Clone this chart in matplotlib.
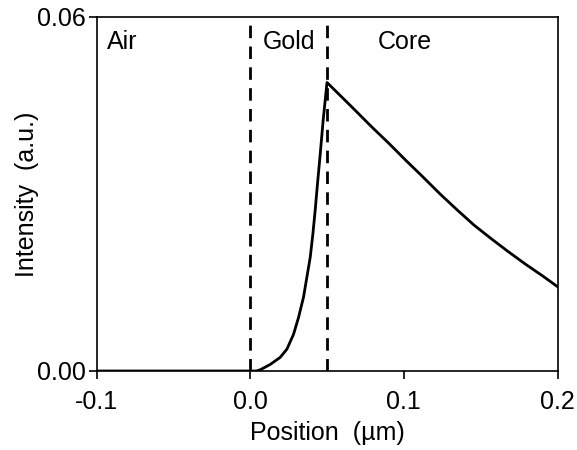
import matplotlib
matplotlib.use("Agg")
from matplotlib import pyplot as plt

plt.rcParams['font.family'] = ['Liberation Sans', 'DejaVu Sans']

# curve
air_x = [-0.1, 0.0]
air_y = [0.0, 0.0]

gold_x = [0.0, 0.004, 0.0065, 0.013, 0.0195, 0.0239, 0.0282, 0.0315, 0.0347, 0.0369,
          0.0391, 0.0408, 0.0423, 0.0438, 0.0456, 0.0475, 0.05]
gold_y = [0.0, 0.0, 0.0002, 0.0011, 0.0023, 0.0037, 0.0062, 0.0091, 0.0125, 0.0159,
          0.0193, 0.0232, 0.0272, 0.0317, 0.0368, 0.0425, 0.0489]

core_x = [0.05, 0.0679, 0.079, 0.0902, 0.1013, 0.1124, 0.1236, 0.1347,
          0.1458, 0.157, 0.1681, 0.1792, 0.1904, 0.2]
core_y = [0.0489, 0.0443, 0.0414, 0.0386, 0.0357, 0.0329, 0.0300, 0.0273,
          0.0247, 0.0224, 0.0202, 0.0181, 0.0161, 0.0143]

boundaries = [0.0, 0.05]
regions = ["Air", "Gold", "Core"]
region_x = [-0.093, 0.008, 0.083]

x_all = air_x + gold_x[1:] + core_x[1:]
y_all = air_y + gold_y[1:] + core_y[1:]

fig = plt.figure(figsize=(5.77, 4.5), dpi=100)
ax = fig.add_axes([96.5 / 577, 79 / 450, 461 / 577, 354 / 450])

for b in boundaries:
    ax.axvline(b, color='black', lw=2, ls=(0, (4.5, 3)))

ax.plot(x_all, y_all, color='black', lw=2)

for name, xp in zip(regions, region_x):
    ax.text(xp, 0.0557, name, fontsize=18, va='center', ha='left')

ax.set_xlim(-0.1, 0.2)
ax.set_ylim(0, 0.06)
ax.set_xticks([-0.1, 0.0, 0.1, 0.2])
ax.set_xticklabels(["-0.1", "0.0", "0.1", "0.2"])
ax.set_yticks([0.0, 0.06])
ax.set_yticklabels(["0.00", "0.06"])

ax.tick_params(direction='out', length=6, width=1.2, labelsize=18, pad=2)
ax.tick_params(axis='x', pad=8)
for s in ax.spines.values():
    s.set_linewidth(1.2)

ax.set_xlabel("Position  (\u00b5m)", fontsize=18, labelpad=5)
ax.set_ylabel("Intensity  (a.u.)", fontsize=18, labelpad=-2)

fig.savefig("out.png", dpi=100)
